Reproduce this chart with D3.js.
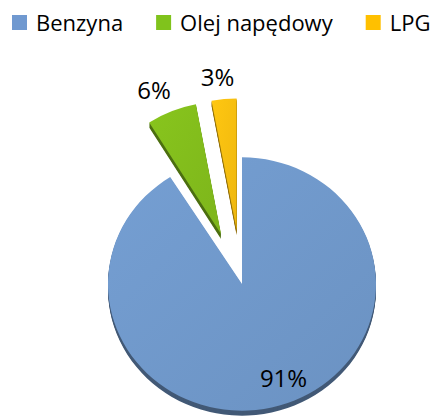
<!DOCTYPE html>
<html>
<head>
    <meta charset="utf-8" />
    <style>
        body { margin: 0; background: #fff; }
        svg { display: block; font-family: "Open Sans", sans-serif; }
    </style>
    <script src="https://d3js.org/d3.v7.min.js"></script>
</head>
<body>
<svg id="chart"></svg>
<script>

// data
let categories = ["Benzyna", "Olej napędowy", "LPG"];
let shares = [91, 6, 3];
let labels = ["91%", "6%", "3%"];
let colors = ["#7098CA", "#82BD1C", "#F8BF10"];
let legendColors = ["#7099D0", "#80C31C", "#FFC000"];
let explode = [0, 57, 57];

let W = 434, H = 419;
let cx = 242, cy = 284;
let R = 134;
let tilt = 0.945;       // squash for the 3d look
let nearTilt = 0.985;   // exploded slices sit "higher" in the perspective
let depth = 5;

let svg = d3.select("#chart")
    .attr("width", W)
    .attr("height", H);

/* legend */

let legend = svg.append("g").attr("class", "legend");
let lx = 12;
categories.forEach((c, i) => {
    let item = legend.append("g").attr("transform", "translate(" + lx + ",0)");
    item.append("rect")
        .attr("x", 0).attr("y", 15)
        .attr("width", 15).attr("height", 15)
        .attr("fill", legendColors[i]);
    let t = item.append("text")
        .attr("x", 24).attr("y", 31)
        .attr("font-size", 22)
        .attr("fill", "#000")
        .text(c);
    lx += 24 + t.node().getComputedTextLength() + 33;
});

/* pie */

let pie = d3.pie().sort(null).value(d => d)(shares);
let arc = d3.arc().innerRadius(0).outerRadius(R);

let defs = svg.append("defs");
colors.forEach((c, i) => {
    let g = defs.append("linearGradient")
        .attr("id", "grad" + i)
        .attr("x1", "0%").attr("y1", "0%")
        .attr("x2", "100%").attr("y2", "100%");
    g.append("stop").attr("offset", "0%").attr("stop-color", d3.color(c).brighter(0.12));
    g.append("stop").attr("offset", "100%").attr("stop-color", d3.color(c).darker(0.12));
});

let mainG = svg.append("g")
    .attr("transform", "translate(" + cx + "," + cy + ")");

function midAngle(d) { return (d.startAngle + d.endAngle) / 2; }
function sliceTilt(i) { return explode[i] > 0 ? nearTilt : tilt; }

let slices = mainG.selectAll("g.slice")
    .data(pie)
    .enter()
    .append("g")
    .attr("class", "slice")
    .attr("transform", (d, i) => {
        let a = midAngle(d);
        let dx = Math.sin(a) * explode[i];
        let dy = -Math.cos(a) * explode[i] * tilt;
        return "translate(" + dx + "," + dy + ")";
    });

// side of the slice (drawn a few px lower, darker)
slices.each(function(d, i) {
    let g = d3.select(this);
    for (let k = depth; k >= 1; k--) {
        g.append("path")
            .attr("d", arc(d))
            .attr("transform", "translate(0," + k + ") scale(1," + sliceTilt(i) + ")")
            .attr("fill", d3.color(colors[i]).darker(1.5));
    }
});

// top face
slices.append("path")
    .attr("d", d => arc(d))
    .attr("transform", (d, i) => "scale(1," + sliceTilt(i) + ")")
    .attr("fill", (d, i) => "url(#grad" + i + ")");

/* labels */

let labelRadius = [0.81 * R, explode[1] + 165, explode[2] + 162];
let labelTurn = [-0.11, -0.03, -0.018];

function labelAngle(d, i) { return midAngle(d) + labelTurn[i]; }

mainG.selectAll("text.lbl")
    .data(pie)
    .enter()
    .append("text")
    .attr("class", "lbl")
    .attr("font-size", 24)
    .attr("fill", "#000")
    .attr("text-anchor", "middle")
    .attr("x", (d, i) => Math.sin(labelAngle(d, i)) * labelRadius[i])
    .attr("y", (d, i) => -Math.cos(labelAngle(d, i)) * labelRadius[i] * tilt + 8)
    .text((d, i) => labels[i]);

</script>
</body>
</html>
